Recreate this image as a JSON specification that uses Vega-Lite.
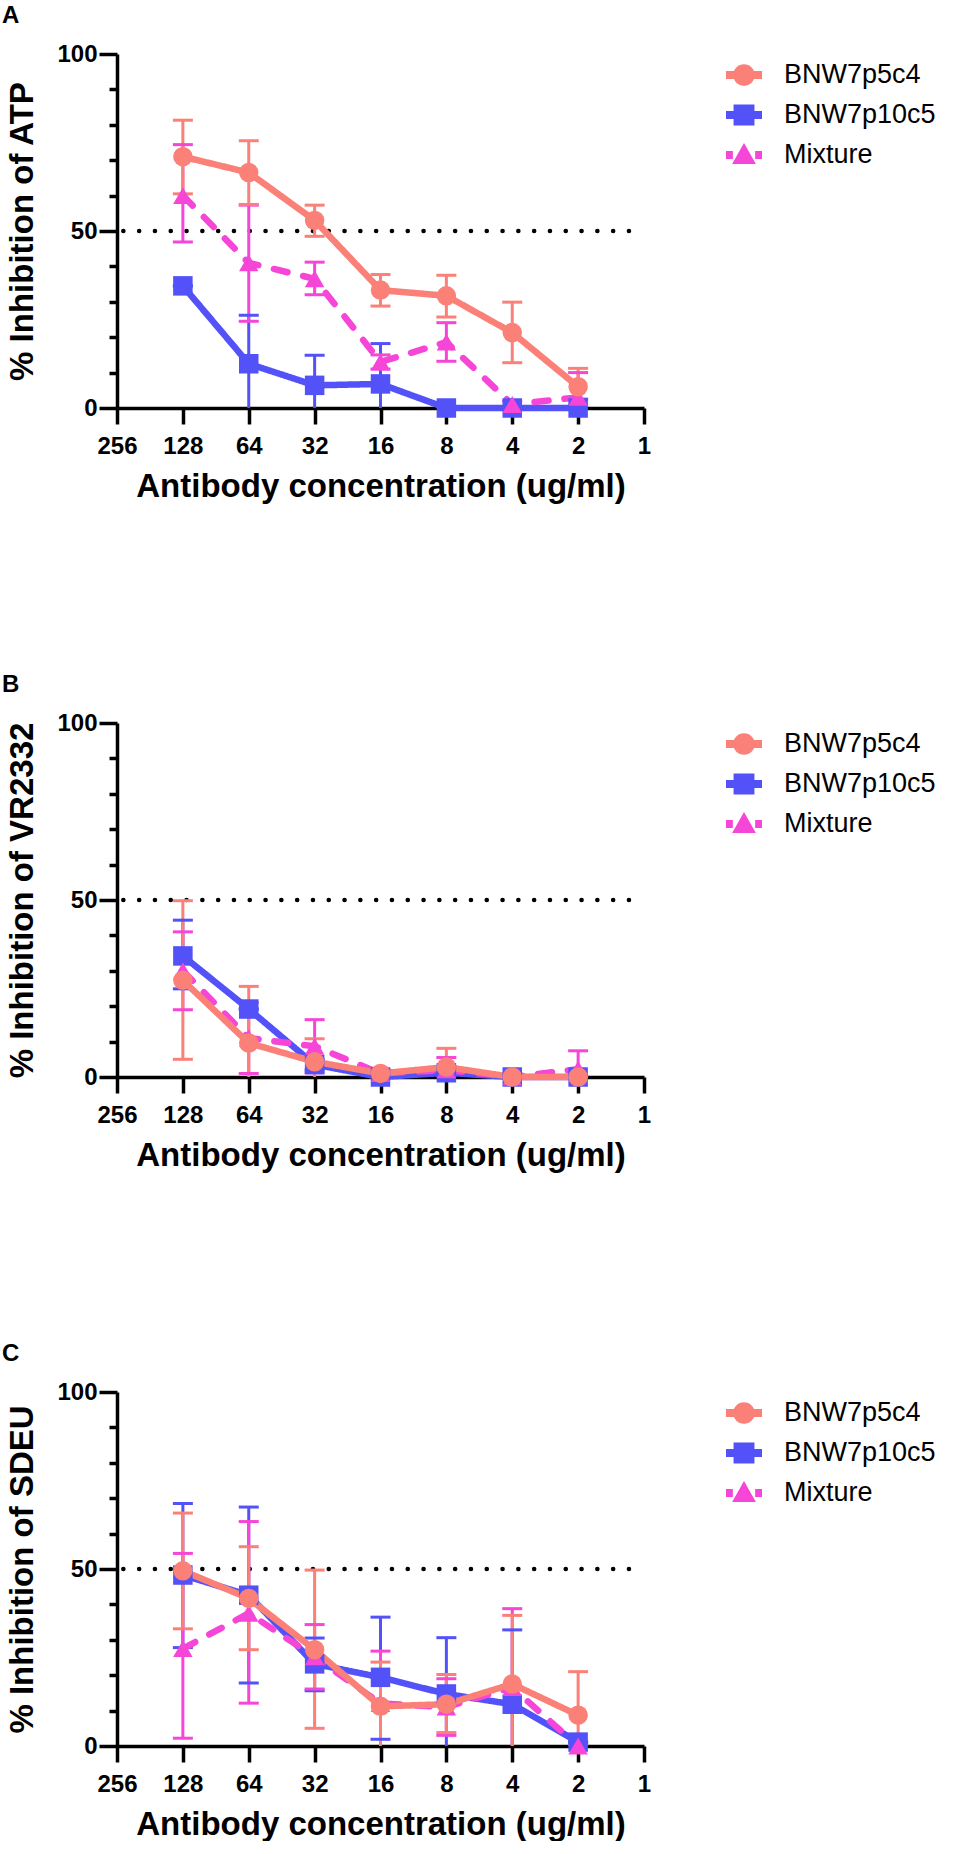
{
  "$schema": "https://vega.github.io/schema/vega-lite/v6.json",
  "padding": {"left": 2, "top": 4, "right": 0, "bottom": 0},
  "background": "white",
  "data": {
    "values": [
      {"panel": "A", "series": "BNW7p10c5", "conc": 128, "value": 34.5, "lo": 34.5, "hi": 34.5},
      {"panel": "A", "series": "BNW7p10c5", "conc": 64, "value": 12.5, "lo": -1.2, "hi": 26.2},
      {"panel": "A", "series": "BNW7p10c5", "conc": 32, "value": 6.4, "lo": -2, "hi": 14.9},
      {"panel": "A", "series": "BNW7p10c5", "conc": 16, "value": 6.8, "lo": -4.6, "hi": 18.2},
      {"panel": "A", "series": "BNW7p10c5", "conc": 8, "value": 0, "lo": 0, "hi": 0},
      {"panel": "A", "series": "BNW7p10c5", "conc": 4, "value": 0, "lo": 0, "hi": 0},
      {"panel": "A", "series": "BNW7p10c5", "conc": 2, "value": 0, "lo": -2.5, "hi": 2.5},
      {"panel": "A", "series": "Mixture", "conc": 128, "value": 60, "lo": 46.9, "hi": 74.4},
      {"panel": "A", "series": "Mixture", "conc": 64, "value": 41, "lo": 24.5, "hi": 57.3},
      {"panel": "A", "series": "Mixture", "conc": 32, "value": 36.5, "lo": 32, "hi": 41.2},
      {"panel": "A", "series": "Mixture", "conc": 16, "value": 13, "lo": 11, "hi": 15},
      {"panel": "A", "series": "Mixture", "conc": 8, "value": 18.6, "lo": 13.2, "hi": 24.1},
      {"panel": "A", "series": "Mixture", "conc": 4, "value": 1, "lo": 0, "hi": 2},
      {"panel": "A", "series": "Mixture", "conc": 2, "value": 3, "lo": -4, "hi": 10},
      {"panel": "A", "series": "BNW7p5c4", "conc": 128, "value": 71, "lo": 60.5, "hi": 81.3},
      {"panel": "A", "series": "BNW7p5c4", "conc": 64, "value": 66.5, "lo": 57.5, "hi": 75.5},
      {"panel": "A", "series": "BNW7p5c4", "conc": 32, "value": 53, "lo": 48.5, "hi": 57.3},
      {"panel": "A", "series": "BNW7p5c4", "conc": 16, "value": 33.3, "lo": 28.8, "hi": 37.7},
      {"panel": "A", "series": "BNW7p5c4", "conc": 8, "value": 31.7, "lo": 25.7, "hi": 37.5},
      {"panel": "A", "series": "BNW7p5c4", "conc": 4, "value": 21.3, "lo": 12.8, "hi": 29.9},
      {"panel": "A", "series": "BNW7p5c4", "conc": 2, "value": 6, "lo": 0.8, "hi": 11.2},

      {"panel": "B", "series": "BNW7p10c5", "conc": 128, "value": 34.2, "lo": 24.9, "hi": 44.3},
      {"panel": "B", "series": "BNW7p10c5", "conc": 64, "value": 19.2, "lo": 19.2, "hi": 19.2},
      {"panel": "B", "series": "BNW7p10c5", "conc": 32, "value": 3.5, "lo": 2, "hi": 5},
      {"panel": "B", "series": "BNW7p10c5", "conc": 16, "value": 0, "lo": 0, "hi": 0},
      {"panel": "B", "series": "BNW7p10c5", "conc": 8, "value": 1.2, "lo": 0, "hi": 2.4},
      {"panel": "B", "series": "BNW7p10c5", "conc": 4, "value": 0, "lo": 0, "hi": 0},
      {"panel": "B", "series": "BNW7p10c5", "conc": 2, "value": 0, "lo": 0, "hi": 0},
      {"panel": "B", "series": "Mixture", "conc": 128, "value": 30, "lo": 19, "hi": 41},
      {"panel": "B", "series": "Mixture", "conc": 64, "value": 11, "lo": 1, "hi": 21},
      {"panel": "B", "series": "Mixture", "conc": 32, "value": 8.7, "lo": 1.2, "hi": 16.2},
      {"panel": "B", "series": "Mixture", "conc": 16, "value": 1, "lo": 0, "hi": 2},
      {"panel": "B", "series": "Mixture", "conc": 8, "value": 2, "lo": -1.5, "hi": 5.5},
      {"panel": "B", "series": "Mixture", "conc": 4, "value": 0, "lo": 0, "hi": 0},
      {"panel": "B", "series": "Mixture", "conc": 2, "value": 2.2, "lo": -3, "hi": 7.4},
      {"panel": "B", "series": "BNW7p5c4", "conc": 128, "value": 27.3, "lo": 5, "hi": 49.8},
      {"panel": "B", "series": "BNW7p5c4", "conc": 64, "value": 9.6, "lo": -6, "hi": 25.6},
      {"panel": "B", "series": "BNW7p5c4", "conc": 32, "value": 4.3, "lo": -2, "hi": 10.8},
      {"panel": "B", "series": "BNW7p5c4", "conc": 16, "value": 1, "lo": 0, "hi": 2},
      {"panel": "B", "series": "BNW7p5c4", "conc": 8, "value": 2.8, "lo": -2.5, "hi": 8.1},
      {"panel": "B", "series": "BNW7p5c4", "conc": 4, "value": 0, "lo": 0, "hi": 0},
      {"panel": "B", "series": "BNW7p5c4", "conc": 2, "value": 0, "lo": 0, "hi": 0},

      {"panel": "C", "series": "BNW7p10c5", "conc": 128, "value": 48.3, "lo": 27.8, "hi": 68.5},
      {"panel": "C", "series": "BNW7p10c5", "conc": 64, "value": 42.6, "lo": 17.8, "hi": 67.5},
      {"panel": "C", "series": "BNW7p10c5", "conc": 32, "value": 23.2, "lo": 15.6, "hi": 30.5},
      {"panel": "C", "series": "BNW7p10c5", "conc": 16, "value": 19.4, "lo": 1.9, "hi": 36.4},
      {"panel": "C", "series": "BNW7p10c5", "conc": 8, "value": 14.7, "lo": -1.2, "hi": 30.6},
      {"panel": "C", "series": "BNW7p10c5", "conc": 4, "value": 11.8, "lo": -9, "hi": 32.8},
      {"panel": "C", "series": "BNW7p10c5", "conc": 2, "value": 1.1, "lo": 1.1, "hi": 1.1},
      {"panel": "C", "series": "Mixture", "conc": 128, "value": 27.5, "lo": 2.2, "hi": 54.4},
      {"panel": "C", "series": "Mixture", "conc": 64, "value": 37.5, "lo": 12.1, "hi": 63.4},
      {"panel": "C", "series": "Mixture", "conc": 32, "value": 25.2, "lo": 16.1, "hi": 34.3},
      {"panel": "C", "series": "Mixture", "conc": 16, "value": 12, "lo": -2, "hi": 26.8},
      {"panel": "C", "series": "Mixture", "conc": 8, "value": 11, "lo": 3, "hi": 19},
      {"panel": "C", "series": "Mixture", "conc": 4, "value": 16.5, "lo": -5.5, "hi": 38.8},
      {"panel": "C", "series": "Mixture", "conc": 2, "value": 0, "lo": 0, "hi": 0},
      {"panel": "C", "series": "BNW7p5c4", "conc": 128, "value": 49.5, "lo": 33.1, "hi": 65.8},
      {"panel": "C", "series": "BNW7p5c4", "conc": 64, "value": 41.7, "lo": 27.2, "hi": 56.3},
      {"panel": "C", "series": "BNW7p5c4", "conc": 32, "value": 27.2, "lo": 5, "hi": 49.7},
      {"panel": "C", "series": "BNW7p5c4", "conc": 16, "value": 11.2, "lo": -1.3, "hi": 23.7},
      {"panel": "C", "series": "BNW7p5c4", "conc": 8, "value": 11.8, "lo": 3.8, "hi": 20.2},
      {"panel": "C", "series": "BNW7p5c4", "conc": 4, "value": 17.5, "lo": -1.9, "hi": 36.9},
      {"panel": "C", "series": "BNW7p5c4", "conc": 2, "value": 8.7, "lo": -3.6, "hi": 21}
    ]
  },
  "spacing": 170,
  "resolve": {
    "scale": {"x": "independent", "y": "independent", "color": "independent", "strokeDash": "independent"},
    "legend": {"color": "independent", "strokeDash": "independent"}
  },
  "vconcat": [
    {
      "width": 527,
      "height": 354,
      "title": {"text": "A", "anchor": "start", "frame": "group", "dx": -115, "offset": 14},
      "layer": [
        {
          "data": {"values": [{"level": 50}]},
          "mark": {"type": "rule", "color": "black", "strokeWidth": 4.5, "strokeCap": "round", "strokeDash": [0.1, 15.7], "strokeDashOffset": 0.8},
          "encoding": {
            "y": {"field": "level", "type": "quantitative", "scale": {"domain": [0, 100], "nice": false}, "title": "% Inhibition of ATP",
              "axis": {"values": [0, 10, 20, 30, 40, 50, 60, 70, 80, 90, 100], "labelExpr": "(datum.value == 0 || datum.value == 50 || datum.value == 100) ? datum.label : ''", "labelOverlap": false, "tickSize": {"condition": {"test": "datum.value % 50 === 0", "value": 18}, "value": 8}, "labelPadding": 2, "titlePadding": 17}}
          }
        },
        {
          "transform": [{"filter": "datum.panel === 'A'"}],
          "mark": {"type": "rule", "strokeWidth": 3, "clip": true},
          "encoding": {
            "x": {"field": "conc", "type": "quantitative", "scale": {"type": "log", "base": 2, "domain": [1, 256], "reverse": true, "nice": false}, "title": "Antibody concentration (ug/ml)",
              "axis": {"values": [256, 128, 64, 32, 16, 8, 4, 2, 1], "format": "d", "labelFlush": false, "labelOverlap": false, "tickSize": 16, "labelPadding": 10, "titlePadding": 12}},
            "y": {"field": "lo", "type": "quantitative", "title": "% Inhibition of ATP",
              "axis": {"values": [0, 10, 20, 30, 40, 50, 60, 70, 80, 90, 100], "labelExpr": "(datum.value == 0 || datum.value == 50 || datum.value == 100) ? datum.label : ''", "labelOverlap": false, "tickSize": {"condition": {"test": "datum.value % 50 === 0", "value": 18}, "value": 8}, "labelPadding": 2, "titlePadding": 17}},
            "y2": {"field": "hi"},
            "color": {"field": "series", "type": "nominal", "scale": {"domain": ["BNW7p5c4", "BNW7p10c5", "Mixture"], "range": ["#FA8078", "#5252F8", "#F546D8"]}}
          }
        },
        {
          "transform": [{"filter": "datum.panel === 'A'"}],
          "mark": {"type": "tick", "orient": "horizontal", "size": 20, "thickness": 3, "opacity": 1, "clip": true},
          "encoding": {
            "x": {"field": "conc", "type": "quantitative"},
            "y": {"field": "hi", "type": "quantitative", "title": "% Inhibition of ATP",
              "axis": {"values": [0, 10, 20, 30, 40, 50, 60, 70, 80, 90, 100], "labelExpr": "(datum.value == 0 || datum.value == 50 || datum.value == 100) ? datum.label : ''", "labelOverlap": false, "tickSize": {"condition": {"test": "datum.value % 50 === 0", "value": 18}, "value": 8}, "labelPadding": 2, "titlePadding": 17}},
            "color": {"field": "series", "type": "nominal"}
          }
        },
        {
          "transform": [{"filter": "datum.panel === 'A'"}],
          "mark": {"type": "tick", "orient": "horizontal", "size": 20, "thickness": 3, "opacity": 1, "clip": true},
          "encoding": {
            "x": {"field": "conc", "type": "quantitative"},
            "y": {"field": "lo", "type": "quantitative", "title": "% Inhibition of ATP",
              "axis": {"values": [0, 10, 20, 30, 40, 50, 60, 70, 80, 90, 100], "labelExpr": "(datum.value == 0 || datum.value == 50 || datum.value == 100) ? datum.label : ''", "labelOverlap": false, "tickSize": {"condition": {"test": "datum.value % 50 === 0", "value": 18}, "value": 8}, "labelPadding": 2, "titlePadding": 17}},
            "color": {"field": "series", "type": "nominal"}
          }
        },
        {
          "transform": [{"filter": "datum.panel === 'A'"}],
          "mark": {"type": "line", "strokeWidth": 6.5, "strokeCap": "round", "strokeJoin": "round"},
          "encoding": {
            "x": {"field": "conc", "type": "quantitative"},
            "y": {"field": "value", "type": "quantitative", "title": "% Inhibition of ATP",
              "axis": {"values": [0, 10, 20, 30, 40, 50, 60, 70, 80, 90, 100], "labelExpr": "(datum.value == 0 || datum.value == 50 || datum.value == 100) ? datum.label : ''", "labelOverlap": false, "tickSize": {"condition": {"test": "datum.value % 50 === 0", "value": 18}, "value": 8}, "labelPadding": 2, "titlePadding": 17}},
            "color": {"field": "series", "type": "nominal"},
            "strokeDash": {"field": "series", "type": "nominal", "scale": {"domain": ["BNW7p5c4", "BNW7p10c5", "Mixture"], "range": [[1, 0], [1, 0], [14, 16]]},
              "legend": {"orient": "none", "legendX": 609, "legendY": 3, "title": null, "padding": 0, "labelFontSize": 27, "labelOffset": 22, "symbolSize": 1296, "rowPadding": 9,
                "encode": {"symbols": {"update": {
                  "shape": {"signal": "datum.value === 'BNW7p5c4' ? 'M-1,-0.22H1V0.22H-1Z M0.6,0C0.6,0.331 0.331,0.6 0,0.6C-0.331,0.6 -0.6,0.331 -0.6,0C-0.6,-0.331 -0.331,-0.6 0,-0.6C0.331,-0.6 0.6,-0.331 0.6,0Z' : datum.value === 'BNW7p10c5' ? 'M-1,-0.22H1V0.22H-1Z M-0.58,-0.58H0.58V0.58H-0.58Z' : 'M-1,-0.22H-0.62V0.22H-1Z M0.62,-0.22H1V0.22H0.62Z M0,-0.66L0.66,0.5H-0.66Z'"},
                  "fill": {"signal": "datum.value === 'BNW7p5c4' ? '#FA8078' : datum.value === 'BNW7p10c5' ? '#5252F8' : '#F546D8'"},
                  "strokeWidth": {"value": 0}, "opacity": {"value": 1}, "fillOpacity": {"value": 1}}}}}}
          }
        },
        {
          "transform": [{"filter": "datum.panel === 'A' && datum.series === 'BNW7p10c5'"}],
          "mark": {"type": "point", "shape": "square", "filled": true, "opacity": 1, "size": 380},
          "encoding": {
            "x": {"field": "conc", "type": "quantitative"},
            "y": {"field": "value", "type": "quantitative", "title": "% Inhibition of ATP",
              "axis": {"values": [0, 10, 20, 30, 40, 50, 60, 70, 80, 90, 100], "labelExpr": "(datum.value == 0 || datum.value == 50 || datum.value == 100) ? datum.label : ''", "labelOverlap": false, "tickSize": {"condition": {"test": "datum.value % 50 === 0", "value": 18}, "value": 8}, "labelPadding": 2, "titlePadding": 17}},
            "color": {"field": "series", "type": "nominal",
              "legend": {"orient": "none", "legendX": 609, "legendY": 3, "title": null, "padding": 0, "labelFontSize": 27, "labelOffset": 22, "symbolSize": 1296, "rowPadding": 9,
                "encode": {"symbols": {"update": {
                  "shape": {"signal": "datum.value === 'BNW7p5c4' ? 'M-1,-0.22H1V0.22H-1Z M0.6,0C0.6,0.331 0.331,0.6 0,0.6C-0.331,0.6 -0.6,0.331 -0.6,0C-0.6,-0.331 -0.331,-0.6 0,-0.6C0.331,-0.6 0.6,-0.331 0.6,0Z' : datum.value === 'BNW7p10c5' ? 'M-1,-0.22H1V0.22H-1Z M-0.58,-0.58H0.58V0.58H-0.58Z' : 'M-1,-0.22H-0.62V0.22H-1Z M0.62,-0.22H1V0.22H0.62Z M0,-0.66L0.66,0.5H-0.66Z'"},
                  "fill": {"signal": "datum.value === 'BNW7p5c4' ? '#FA8078' : datum.value === 'BNW7p10c5' ? '#5252F8' : '#F546D8'"},
                  "strokeWidth": {"value": 0}, "opacity": {"value": 1}, "fillOpacity": {"value": 1}}}}}}
          }
        },
        {
          "transform": [{"filter": "datum.panel === 'A' && datum.series === 'Mixture'"}],
          "mark": {"type": "point", "shape": "triangle-up", "filled": true, "opacity": 1, "size": 380},
          "encoding": {
            "x": {"field": "conc", "type": "quantitative"},
            "y": {"field": "value", "type": "quantitative", "title": "% Inhibition of ATP",
              "axis": {"values": [0, 10, 20, 30, 40, 50, 60, 70, 80, 90, 100], "labelExpr": "(datum.value == 0 || datum.value == 50 || datum.value == 100) ? datum.label : ''", "labelOverlap": false, "tickSize": {"condition": {"test": "datum.value % 50 === 0", "value": 18}, "value": 8}, "labelPadding": 2, "titlePadding": 17}},
            "color": {"field": "series", "type": "nominal"}
          }
        },
        {
          "transform": [{"filter": "datum.panel === 'A' && datum.series === 'BNW7p5c4'"}],
          "mark": {"type": "point", "shape": "circle", "filled": true, "opacity": 1, "size": 380},
          "encoding": {
            "x": {"field": "conc", "type": "quantitative"},
            "y": {"field": "value", "type": "quantitative", "title": "% Inhibition of ATP",
              "axis": {"values": [0, 10, 20, 30, 40, 50, 60, 70, 80, 90, 100], "labelExpr": "(datum.value == 0 || datum.value == 50 || datum.value == 100) ? datum.label : ''", "labelOverlap": false, "tickSize": {"condition": {"test": "datum.value % 50 === 0", "value": 18}, "value": 8}, "labelPadding": 2, "titlePadding": 17}},
            "color": {"field": "series", "type": "nominal"}
          }
        }
      ]
    },
    {
      "width": 527,
      "height": 354,
      "title": {"text": "B", "anchor": "start", "frame": "group", "dx": -115, "offset": 14},
      "layer": [
        {
          "data": {"values": [{"level": 50}]},
          "mark": {"type": "rule", "color": "black", "strokeWidth": 4.5, "strokeCap": "round", "strokeDash": [0.1, 15.7], "strokeDashOffset": 0.8},
          "encoding": {
            "y": {"field": "level", "type": "quantitative", "scale": {"domain": [0, 100], "nice": false}, "title": "% Inhibition of VR2332",
              "axis": {"values": [0, 10, 20, 30, 40, 50, 60, 70, 80, 90, 100], "labelExpr": "(datum.value == 0 || datum.value == 50 || datum.value == 100) ? datum.label : ''", "labelOverlap": false, "tickSize": {"condition": {"test": "datum.value % 50 === 0", "value": 18}, "value": 8}, "labelPadding": 2, "titlePadding": 17}}
          }
        },
        {
          "transform": [{"filter": "datum.panel === 'B'"}],
          "mark": {"type": "rule", "strokeWidth": 3, "clip": true},
          "encoding": {
            "x": {"field": "conc", "type": "quantitative", "scale": {"type": "log", "base": 2, "domain": [1, 256], "reverse": true, "nice": false}, "title": "Antibody concentration (ug/ml)",
              "axis": {"values": [256, 128, 64, 32, 16, 8, 4, 2, 1], "format": "d", "labelFlush": false, "labelOverlap": false, "tickSize": 16, "labelPadding": 10, "titlePadding": 12}},
            "y": {"field": "lo", "type": "quantitative", "title": "% Inhibition of VR2332",
              "axis": {"values": [0, 10, 20, 30, 40, 50, 60, 70, 80, 90, 100], "labelExpr": "(datum.value == 0 || datum.value == 50 || datum.value == 100) ? datum.label : ''", "labelOverlap": false, "tickSize": {"condition": {"test": "datum.value % 50 === 0", "value": 18}, "value": 8}, "labelPadding": 2, "titlePadding": 17}},
            "y2": {"field": "hi"},
            "color": {"field": "series", "type": "nominal", "scale": {"domain": ["BNW7p5c4", "BNW7p10c5", "Mixture"], "range": ["#FA8078", "#5252F8", "#F546D8"]}}
          }
        },
        {
          "transform": [{"filter": "datum.panel === 'B'"}],
          "mark": {"type": "tick", "orient": "horizontal", "size": 20, "thickness": 3, "opacity": 1, "clip": true},
          "encoding": {
            "x": {"field": "conc", "type": "quantitative"},
            "y": {"field": "hi", "type": "quantitative", "title": "% Inhibition of VR2332",
              "axis": {"values": [0, 10, 20, 30, 40, 50, 60, 70, 80, 90, 100], "labelExpr": "(datum.value == 0 || datum.value == 50 || datum.value == 100) ? datum.label : ''", "labelOverlap": false, "tickSize": {"condition": {"test": "datum.value % 50 === 0", "value": 18}, "value": 8}, "labelPadding": 2, "titlePadding": 17}},
            "color": {"field": "series", "type": "nominal"}
          }
        },
        {
          "transform": [{"filter": "datum.panel === 'B'"}],
          "mark": {"type": "tick", "orient": "horizontal", "size": 20, "thickness": 3, "opacity": 1, "clip": true},
          "encoding": {
            "x": {"field": "conc", "type": "quantitative"},
            "y": {"field": "lo", "type": "quantitative", "title": "% Inhibition of VR2332",
              "axis": {"values": [0, 10, 20, 30, 40, 50, 60, 70, 80, 90, 100], "labelExpr": "(datum.value == 0 || datum.value == 50 || datum.value == 100) ? datum.label : ''", "labelOverlap": false, "tickSize": {"condition": {"test": "datum.value % 50 === 0", "value": 18}, "value": 8}, "labelPadding": 2, "titlePadding": 17}},
            "color": {"field": "series", "type": "nominal"}
          }
        },
        {
          "transform": [{"filter": "datum.panel === 'B'"}],
          "mark": {"type": "line", "strokeWidth": 6.5, "strokeCap": "round", "strokeJoin": "round"},
          "encoding": {
            "x": {"field": "conc", "type": "quantitative"},
            "y": {"field": "value", "type": "quantitative", "title": "% Inhibition of VR2332",
              "axis": {"values": [0, 10, 20, 30, 40, 50, 60, 70, 80, 90, 100], "labelExpr": "(datum.value == 0 || datum.value == 50 || datum.value == 100) ? datum.label : ''", "labelOverlap": false, "tickSize": {"condition": {"test": "datum.value % 50 === 0", "value": 18}, "value": 8}, "labelPadding": 2, "titlePadding": 17}},
            "color": {"field": "series", "type": "nominal"},
            "strokeDash": {"field": "series", "type": "nominal", "scale": {"domain": ["BNW7p5c4", "BNW7p10c5", "Mixture"], "range": [[1, 0], [1, 0], [14, 16]]},
              "legend": {"orient": "none", "legendX": 609, "legendY": 3, "title": null, "padding": 0, "labelFontSize": 27, "labelOffset": 22, "symbolSize": 1296, "rowPadding": 9,
                "encode": {"symbols": {"update": {
                  "shape": {"signal": "datum.value === 'BNW7p5c4' ? 'M-1,-0.22H1V0.22H-1Z M0.6,0C0.6,0.331 0.331,0.6 0,0.6C-0.331,0.6 -0.6,0.331 -0.6,0C-0.6,-0.331 -0.331,-0.6 0,-0.6C0.331,-0.6 0.6,-0.331 0.6,0Z' : datum.value === 'BNW7p10c5' ? 'M-1,-0.22H1V0.22H-1Z M-0.58,-0.58H0.58V0.58H-0.58Z' : 'M-1,-0.22H-0.62V0.22H-1Z M0.62,-0.22H1V0.22H0.62Z M0,-0.66L0.66,0.5H-0.66Z'"},
                  "fill": {"signal": "datum.value === 'BNW7p5c4' ? '#FA8078' : datum.value === 'BNW7p10c5' ? '#5252F8' : '#F546D8'"},
                  "strokeWidth": {"value": 0}, "opacity": {"value": 1}, "fillOpacity": {"value": 1}}}}}}
          }
        },
        {
          "transform": [{"filter": "datum.panel === 'B' && datum.series === 'BNW7p10c5'"}],
          "mark": {"type": "point", "shape": "square", "filled": true, "opacity": 1, "size": 380},
          "encoding": {
            "x": {"field": "conc", "type": "quantitative"},
            "y": {"field": "value", "type": "quantitative", "title": "% Inhibition of VR2332",
              "axis": {"values": [0, 10, 20, 30, 40, 50, 60, 70, 80, 90, 100], "labelExpr": "(datum.value == 0 || datum.value == 50 || datum.value == 100) ? datum.label : ''", "labelOverlap": false, "tickSize": {"condition": {"test": "datum.value % 50 === 0", "value": 18}, "value": 8}, "labelPadding": 2, "titlePadding": 17}},
            "color": {"field": "series", "type": "nominal",
              "legend": {"orient": "none", "legendX": 609, "legendY": 3, "title": null, "padding": 0, "labelFontSize": 27, "labelOffset": 22, "symbolSize": 1296, "rowPadding": 9,
                "encode": {"symbols": {"update": {
                  "shape": {"signal": "datum.value === 'BNW7p5c4' ? 'M-1,-0.22H1V0.22H-1Z M0.6,0C0.6,0.331 0.331,0.6 0,0.6C-0.331,0.6 -0.6,0.331 -0.6,0C-0.6,-0.331 -0.331,-0.6 0,-0.6C0.331,-0.6 0.6,-0.331 0.6,0Z' : datum.value === 'BNW7p10c5' ? 'M-1,-0.22H1V0.22H-1Z M-0.58,-0.58H0.58V0.58H-0.58Z' : 'M-1,-0.22H-0.62V0.22H-1Z M0.62,-0.22H1V0.22H0.62Z M0,-0.66L0.66,0.5H-0.66Z'"},
                  "fill": {"signal": "datum.value === 'BNW7p5c4' ? '#FA8078' : datum.value === 'BNW7p10c5' ? '#5252F8' : '#F546D8'"},
                  "strokeWidth": {"value": 0}, "opacity": {"value": 1}, "fillOpacity": {"value": 1}}}}}}
          }
        },
        {
          "transform": [{"filter": "datum.panel === 'B' && datum.series === 'Mixture'"}],
          "mark": {"type": "point", "shape": "triangle-up", "filled": true, "opacity": 1, "size": 380},
          "encoding": {
            "x": {"field": "conc", "type": "quantitative"},
            "y": {"field": "value", "type": "quantitative", "title": "% Inhibition of VR2332",
              "axis": {"values": [0, 10, 20, 30, 40, 50, 60, 70, 80, 90, 100], "labelExpr": "(datum.value == 0 || datum.value == 50 || datum.value == 100) ? datum.label : ''", "labelOverlap": false, "tickSize": {"condition": {"test": "datum.value % 50 === 0", "value": 18}, "value": 8}, "labelPadding": 2, "titlePadding": 17}},
            "color": {"field": "series", "type": "nominal"}
          }
        },
        {
          "transform": [{"filter": "datum.panel === 'B' && datum.series === 'BNW7p5c4'"}],
          "mark": {"type": "point", "shape": "circle", "filled": true, "opacity": 1, "size": 380},
          "encoding": {
            "x": {"field": "conc", "type": "quantitative"},
            "y": {"field": "value", "type": "quantitative", "title": "% Inhibition of VR2332",
              "axis": {"values": [0, 10, 20, 30, 40, 50, 60, 70, 80, 90, 100], "labelExpr": "(datum.value == 0 || datum.value == 50 || datum.value == 100) ? datum.label : ''", "labelOverlap": false, "tickSize": {"condition": {"test": "datum.value % 50 === 0", "value": 18}, "value": 8}, "labelPadding": 2, "titlePadding": 17}},
            "color": {"field": "series", "type": "nominal"}
          }
        }
      ]
    },
    {
      "width": 527,
      "height": 354,
      "title": {"text": "C", "anchor": "start", "frame": "group", "dx": -115, "offset": 14},
      "layer": [
        {
          "data": {"values": [{"level": 50}]},
          "mark": {"type": "rule", "color": "black", "strokeWidth": 4.5, "strokeCap": "round", "strokeDash": [0.1, 15.7], "strokeDashOffset": 0.8},
          "encoding": {
            "y": {"field": "level", "type": "quantitative", "scale": {"domain": [0, 100], "nice": false}, "title": "% Inhibition of SDEU",
              "axis": {"values": [0, 10, 20, 30, 40, 50, 60, 70, 80, 90, 100], "labelExpr": "(datum.value == 0 || datum.value == 50 || datum.value == 100) ? datum.label : ''", "labelOverlap": false, "tickSize": {"condition": {"test": "datum.value % 50 === 0", "value": 18}, "value": 8}, "labelPadding": 2, "titlePadding": 17}}
          }
        },
        {
          "transform": [{"filter": "datum.panel === 'C'"}],
          "mark": {"type": "rule", "strokeWidth": 3, "clip": true},
          "encoding": {
            "x": {"field": "conc", "type": "quantitative", "scale": {"type": "log", "base": 2, "domain": [1, 256], "reverse": true, "nice": false}, "title": "Antibody concentration (ug/ml)",
              "axis": {"values": [256, 128, 64, 32, 16, 8, 4, 2, 1], "format": "d", "labelFlush": false, "labelOverlap": false, "tickSize": 16, "labelPadding": 10, "titlePadding": 12}},
            "y": {"field": "lo", "type": "quantitative", "title": "% Inhibition of SDEU",
              "axis": {"values": [0, 10, 20, 30, 40, 50, 60, 70, 80, 90, 100], "labelExpr": "(datum.value == 0 || datum.value == 50 || datum.value == 100) ? datum.label : ''", "labelOverlap": false, "tickSize": {"condition": {"test": "datum.value % 50 === 0", "value": 18}, "value": 8}, "labelPadding": 2, "titlePadding": 17}},
            "y2": {"field": "hi"},
            "color": {"field": "series", "type": "nominal", "scale": {"domain": ["BNW7p5c4", "BNW7p10c5", "Mixture"], "range": ["#FA8078", "#5252F8", "#F546D8"]}}
          }
        },
        {
          "transform": [{"filter": "datum.panel === 'C'"}],
          "mark": {"type": "tick", "orient": "horizontal", "size": 20, "thickness": 3, "opacity": 1, "clip": true},
          "encoding": {
            "x": {"field": "conc", "type": "quantitative"},
            "y": {"field": "hi", "type": "quantitative", "title": "% Inhibition of SDEU",
              "axis": {"values": [0, 10, 20, 30, 40, 50, 60, 70, 80, 90, 100], "labelExpr": "(datum.value == 0 || datum.value == 50 || datum.value == 100) ? datum.label : ''", "labelOverlap": false, "tickSize": {"condition": {"test": "datum.value % 50 === 0", "value": 18}, "value": 8}, "labelPadding": 2, "titlePadding": 17}},
            "color": {"field": "series", "type": "nominal"}
          }
        },
        {
          "transform": [{"filter": "datum.panel === 'C'"}],
          "mark": {"type": "tick", "orient": "horizontal", "size": 20, "thickness": 3, "opacity": 1, "clip": true},
          "encoding": {
            "x": {"field": "conc", "type": "quantitative"},
            "y": {"field": "lo", "type": "quantitative", "title": "% Inhibition of SDEU",
              "axis": {"values": [0, 10, 20, 30, 40, 50, 60, 70, 80, 90, 100], "labelExpr": "(datum.value == 0 || datum.value == 50 || datum.value == 100) ? datum.label : ''", "labelOverlap": false, "tickSize": {"condition": {"test": "datum.value % 50 === 0", "value": 18}, "value": 8}, "labelPadding": 2, "titlePadding": 17}},
            "color": {"field": "series", "type": "nominal"}
          }
        },
        {
          "transform": [{"filter": "datum.panel === 'C'"}],
          "mark": {"type": "line", "strokeWidth": 6.5, "strokeCap": "round", "strokeJoin": "round"},
          "encoding": {
            "x": {"field": "conc", "type": "quantitative"},
            "y": {"field": "value", "type": "quantitative", "title": "% Inhibition of SDEU",
              "axis": {"values": [0, 10, 20, 30, 40, 50, 60, 70, 80, 90, 100], "labelExpr": "(datum.value == 0 || datum.value == 50 || datum.value == 100) ? datum.label : ''", "labelOverlap": false, "tickSize": {"condition": {"test": "datum.value % 50 === 0", "value": 18}, "value": 8}, "labelPadding": 2, "titlePadding": 17}},
            "color": {"field": "series", "type": "nominal"},
            "strokeDash": {"field": "series", "type": "nominal", "scale": {"domain": ["BNW7p5c4", "BNW7p10c5", "Mixture"], "range": [[1, 0], [1, 0], [14, 16]]},
              "legend": {"orient": "none", "legendX": 609, "legendY": 3, "title": null, "padding": 0, "labelFontSize": 27, "labelOffset": 22, "symbolSize": 1296, "rowPadding": 9,
                "encode": {"symbols": {"update": {
                  "shape": {"signal": "datum.value === 'BNW7p5c4' ? 'M-1,-0.22H1V0.22H-1Z M0.6,0C0.6,0.331 0.331,0.6 0,0.6C-0.331,0.6 -0.6,0.331 -0.6,0C-0.6,-0.331 -0.331,-0.6 0,-0.6C0.331,-0.6 0.6,-0.331 0.6,0Z' : datum.value === 'BNW7p10c5' ? 'M-1,-0.22H1V0.22H-1Z M-0.58,-0.58H0.58V0.58H-0.58Z' : 'M-1,-0.22H-0.62V0.22H-1Z M0.62,-0.22H1V0.22H0.62Z M0,-0.66L0.66,0.5H-0.66Z'"},
                  "fill": {"signal": "datum.value === 'BNW7p5c4' ? '#FA8078' : datum.value === 'BNW7p10c5' ? '#5252F8' : '#F546D8'"},
                  "strokeWidth": {"value": 0}, "opacity": {"value": 1}, "fillOpacity": {"value": 1}}}}}}
          }
        },
        {
          "transform": [{"filter": "datum.panel === 'C' && datum.series === 'BNW7p10c5'"}],
          "mark": {"type": "point", "shape": "square", "filled": true, "opacity": 1, "size": 380},
          "encoding": {
            "x": {"field": "conc", "type": "quantitative"},
            "y": {"field": "value", "type": "quantitative", "title": "% Inhibition of SDEU",
              "axis": {"values": [0, 10, 20, 30, 40, 50, 60, 70, 80, 90, 100], "labelExpr": "(datum.value == 0 || datum.value == 50 || datum.value == 100) ? datum.label : ''", "labelOverlap": false, "tickSize": {"condition": {"test": "datum.value % 50 === 0", "value": 18}, "value": 8}, "labelPadding": 2, "titlePadding": 17}},
            "color": {"field": "series", "type": "nominal",
              "legend": {"orient": "none", "legendX": 609, "legendY": 3, "title": null, "padding": 0, "labelFontSize": 27, "labelOffset": 22, "symbolSize": 1296, "rowPadding": 9,
                "encode": {"symbols": {"update": {
                  "shape": {"signal": "datum.value === 'BNW7p5c4' ? 'M-1,-0.22H1V0.22H-1Z M0.6,0C0.6,0.331 0.331,0.6 0,0.6C-0.331,0.6 -0.6,0.331 -0.6,0C-0.6,-0.331 -0.331,-0.6 0,-0.6C0.331,-0.6 0.6,-0.331 0.6,0Z' : datum.value === 'BNW7p10c5' ? 'M-1,-0.22H1V0.22H-1Z M-0.58,-0.58H0.58V0.58H-0.58Z' : 'M-1,-0.22H-0.62V0.22H-1Z M0.62,-0.22H1V0.22H0.62Z M0,-0.66L0.66,0.5H-0.66Z'"},
                  "fill": {"signal": "datum.value === 'BNW7p5c4' ? '#FA8078' : datum.value === 'BNW7p10c5' ? '#5252F8' : '#F546D8'"},
                  "strokeWidth": {"value": 0}, "opacity": {"value": 1}, "fillOpacity": {"value": 1}}}}}}
          }
        },
        {
          "transform": [{"filter": "datum.panel === 'C' && datum.series === 'Mixture'"}],
          "mark": {"type": "point", "shape": "triangle-up", "filled": true, "opacity": 1, "size": 380},
          "encoding": {
            "x": {"field": "conc", "type": "quantitative"},
            "y": {"field": "value", "type": "quantitative", "title": "% Inhibition of SDEU",
              "axis": {"values": [0, 10, 20, 30, 40, 50, 60, 70, 80, 90, 100], "labelExpr": "(datum.value == 0 || datum.value == 50 || datum.value == 100) ? datum.label : ''", "labelOverlap": false, "tickSize": {"condition": {"test": "datum.value % 50 === 0", "value": 18}, "value": 8}, "labelPadding": 2, "titlePadding": 17}},
            "color": {"field": "series", "type": "nominal"}
          }
        },
        {
          "transform": [{"filter": "datum.panel === 'C' && datum.series === 'BNW7p5c4'"}],
          "mark": {"type": "point", "shape": "circle", "filled": true, "opacity": 1, "size": 380},
          "encoding": {
            "x": {"field": "conc", "type": "quantitative"},
            "y": {"field": "value", "type": "quantitative", "title": "% Inhibition of SDEU",
              "axis": {"values": [0, 10, 20, 30, 40, 50, 60, 70, 80, 90, 100], "labelExpr": "(datum.value == 0 || datum.value == 50 || datum.value == 100) ? datum.label : ''", "labelOverlap": false, "tickSize": {"condition": {"test": "datum.value % 50 === 0", "value": 18}, "value": 8}, "labelPadding": 2, "titlePadding": 17}},
            "color": {"field": "series", "type": "nominal"}
          }
        }
      ]
    }
  ],
  "config": {
    "view": {"stroke": null},
    "font": "Liberation Sans",
    "title": {"font": "Liberation Sans", "fontSize": 24, "fontWeight": "bold", "color": "black"},
    "axis": {
      "grid": false,
      "domainColor": "black",
      "domainWidth": 3.5,
      "tickColor": "black",
      "tickWidth": 3.5,
      "labelFont": "Liberation Sans",
      "labelFontSize": 24,
      "labelFontWeight": "bold",
      "labelColor": "black",
      "labelOverlap": false,
      "titleFont": "Liberation Sans",
      "titleFontSize": 33,
      "titleFontWeight": "bold",
      "titleColor": "black"
    },
    "legend": {"labelFont": "Liberation Sans", "labelColor": "black", "labelFontWeight": "normal"}
  }
}
